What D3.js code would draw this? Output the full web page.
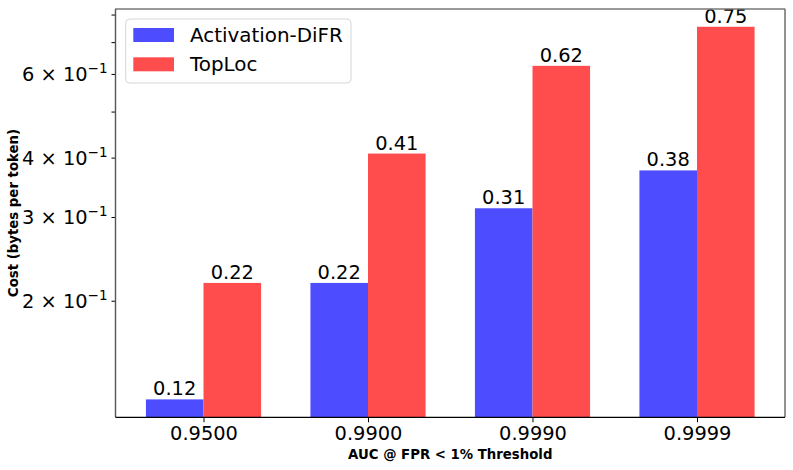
<!DOCTYPE html>
<html lang="en">
<head>
  <meta charset="UTF-8">
  <title>Cost vs AUC threshold</title>
  <script src="https://d3js.org/d3.v7.min.js"></script>
  <style>
    body { margin: 0; background: #fff; }
    svg { display: block; font-family: "DejaVu Sans", sans-serif; }
  </style>
</head>
<body>
  <svg id="chart" width="793" height="470"></svg>
  <script>
    // Data.
    const thresholds = ["0.9500", "0.9900", "0.9990", "0.9999"];
    const difrCost = [0.124, 0.218, 0.313, 0.376];
    const toplocCost = [0.218, 0.408, 0.624, 0.754];
    const seriesNames = ["Activation-DiFR", "TopLoc"];
    const seriesColors = ["#4d4dff", "#ff4d4d"];
    const yTicks = [0.2, 0.3, 0.4, 0.5, 0.6, 0.7, 0.8];
    const yTickLabels = { 0.2: "2", 0.3: "3", 0.4: "4", 0.6: "6" };

    const margin = { top: 8.7, right: 8, bottom: 52.7, left: 115.5 },
          width = 793 - margin.left - margin.right,
          height = 470 - margin.top - margin.bottom;

    const FONT = "DejaVu Sans";
    const FS = 19.4;
    const svg = d3.select("#chart");
    const g = svg.append("g")
                 .attr("transform", `translate(${margin.left},${margin.top})`);

    const barW = 0.35;

    // linear x over category index, with matplotlib-like margins
    const x = d3.scaleLinear()
                .domain([-0.535, thresholds.length - 1 + 0.535])
                .range([0, width]);

    const y = d3.scaleLog()
                .domain([0.1137, 0.823])
                .range([height, 0]);

    // bars
    const series = [difrCost, toplocCost];
    series.forEach((vals, si) => {
      const off = si === 0 ? -barW / 2 : barW / 2;
      const bars = vals.map((v, i) => ({ i, v }));

      g.selectAll(".bar" + si)
       .data(bars)
       .enter()
       .append("rect")
       .attr("class", "bar" + si)
       .attr("x", d => x(d.i + off - barW / 2))
       .attr("width", x(barW) - x(0))
       .attr("y", d => y(d.v))
       .attr("height", d => height - y(d.v))
       .attr("fill", seriesColors[si]);

      g.selectAll(".lab" + si)
       .data(bars)
       .enter()
       .append("text")
       .attr("class", "lab" + si)
       .attr("x", d => x(d.i + off))
       .attr("y", d => y(d.v) - 4)
       .attr("text-anchor", "middle")
       .attr("font-family", FONT)
       .attr("font-size", FS)
       .text(d => d.v.toFixed(2));
    });

    // x axis
    const xAxis = g.append("g")
                   .attr("transform", `translate(0,${height})`)
                   .call(d3.axisBottom(x)
                           .tickValues(d3.range(thresholds.length))
                           .tickFormat(i => thresholds[i])
                           .tickSize(5)
                           .tickPadding(4));
    xAxis.attr("font-size", FS).attr("font-family", FONT);
    xAxis.select(".domain").remove();
    xAxis.selectAll(".tick text")
         .attr("font-size", FS)
         .attr("font-family", FONT)
         .attr("fill", "#000");
    xAxis.selectAll("line").attr("stroke", "#000");

    // y axis: ticks only, labels drawn below
    const yAxis = g.append("g")
                   .call(d3.axisLeft(y)
                           .tickValues(yTicks)
                           .tickFormat("")
                           .tickSize(4));
    yAxis.select(".domain").remove();
    yAxis.selectAll("line").attr("stroke", "#000");

    const yLabels = g.append("g")
                     .attr("font-family", FONT)
                     .attr("font-size", FS);
    yTicks.filter(t => yTickLabels[t]).forEach(t => {
      const lab = yLabels.append("text")
                         .attr("x", -8)
                         .attr("y", y(t) + 7)
                         .attr("text-anchor", "end");
      lab.append("tspan").text(yTickLabels[t] + " \u00d7 10");
      lab.append("tspan")
         .attr("dy", -8)
         .attr("font-size", 13.5)
         .text("\u22121");
    });

    // spines
    g.append("line").attr("x1", 0).attr("x2", width).attr("y1", 0.3).attr("y2", 0.3)
     .attr("stroke", "#777").attr("stroke-width", 1.4);
    g.append("line").attr("x1", 0).attr("x2", 0).attr("y1", 0).attr("y2", height)
     .attr("stroke", "#555").attr("stroke-width", 1.4);
    g.append("line").attr("x1", width).attr("x2", width).attr("y1", 0).attr("y2", height)
     .attr("stroke", "#777").attr("stroke-width", 1.6);
    g.append("line").attr("x1", 0).attr("x2", width).attr("y1", height).attr("y2", height)
     .attr("stroke", "#000").attr("stroke-width", 1.2);

    // axis titles
    svg.append("text")
       .attr("x", margin.left + width / 2)
       .attr("y", 459)
       .attr("text-anchor", "middle")
       .attr("font-family", FONT)
       .attr("font-size", 13.3)
       .attr("font-weight", "bold")
       .text("AUC @ FPR < 1% Threshold");

    svg.append("text")
       .attr("transform", `translate(18,${margin.top + height / 2}) rotate(-90)`)
       .attr("text-anchor", "middle")
       .attr("font-family", FONT)
       .attr("font-size", 13.3)
       .attr("font-weight", "bold")
       .text("Cost (bytes per token)");

    // legend
    const legend = g.append("g").attr("transform", "translate(10.2,10.3)");
    legend.append("rect")
          .attr("width", 225.3)
          .attr("height", 64)
          .attr("rx", 4)
          .attr("fill", "#fff")
          .attr("fill-opacity", 0.8)
          .attr("stroke", "#d6d6d6");
    seriesNames.forEach((name, i) => {
      legend.append("rect")
            .attr("x", 7.6)
            .attr("y", 9 + i * 29.3)
            .attr("width", 40.7)
            .attr("height", 14)
            .attr("fill", seriesColors[i]);
      legend.append("text")
            .attr("x", 64.3)
            .attr("y", 16 + i * 29.3 + 7)
            .attr("font-family", FONT)
            .attr("font-size", 19.9)
            .text(name);
    });
  </script>
</body>
</html>
